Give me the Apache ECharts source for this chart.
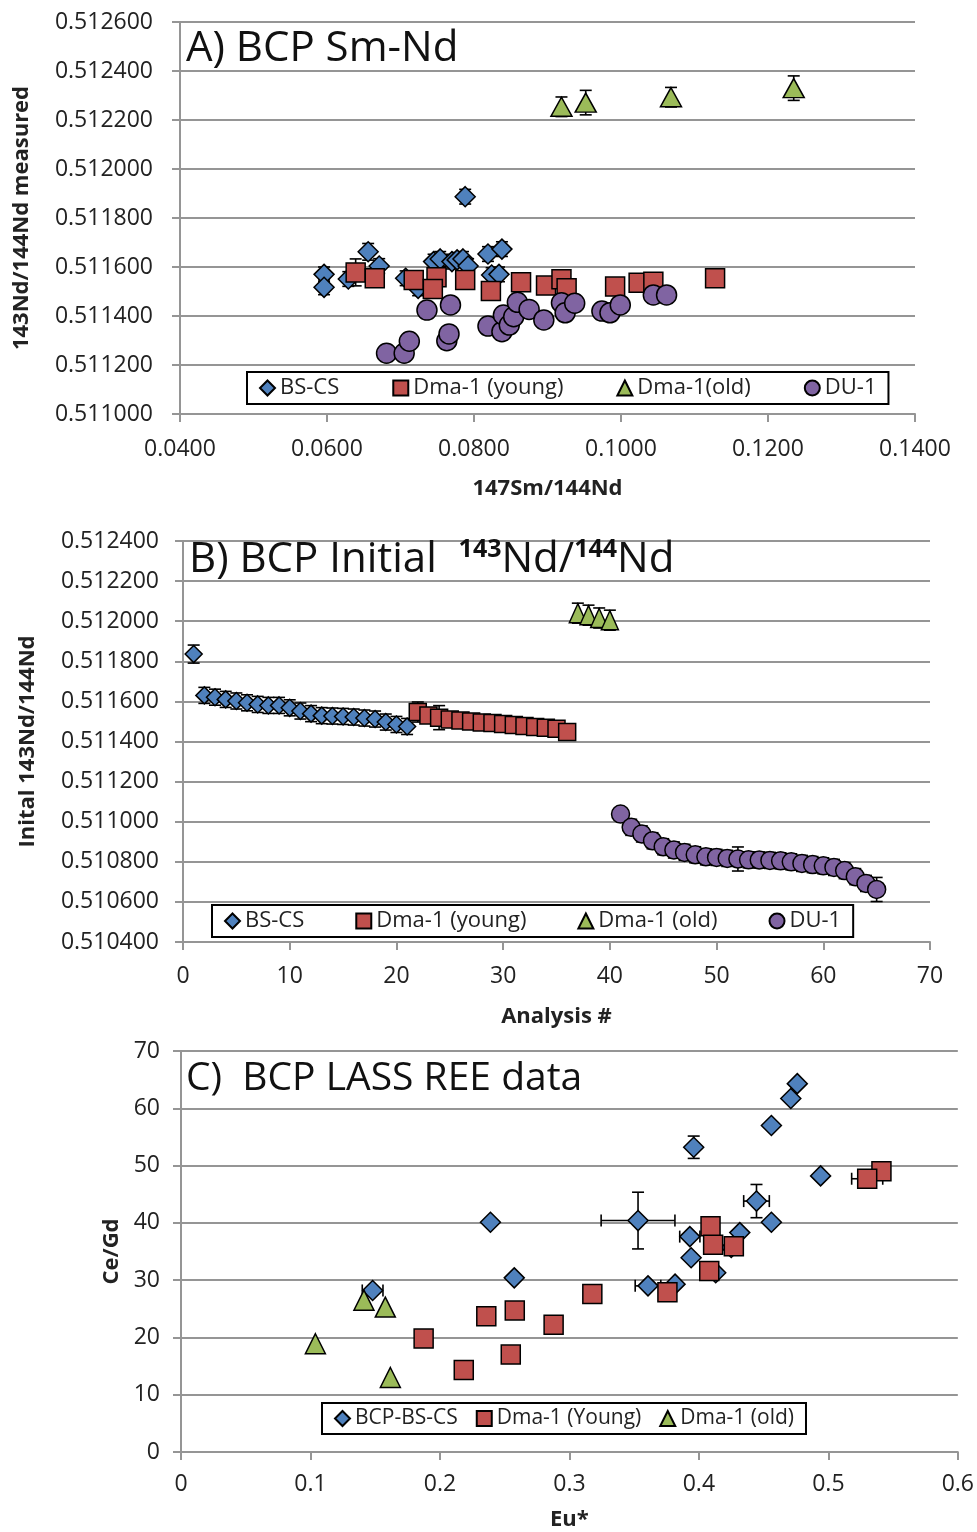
<!DOCTYPE html>
<html>
<head>
<meta charset="utf-8">
<script src="https://cdn.jsdelivr.net/npm/echarts@6/dist/echarts.min.js"></script>
<style>
  html, body { margin: 0; padding: 0; background: #fff; }
  #chart { width: 977px; height: 1532px; }
</style>
</head>
<body>
<div id="chart"></div>
<script>
// ---- A) BCP Sm-Nd : 147Sm/144Nd vs measured 143Nd/144Nd
const aBsX = [0.0788, 0.0596, 0.0596, 0.0629, 0.0656, 0.0671, 0.0707, 0.0724, 0.0745, 0.0754, 0.0770, 0.0777, 0.0785, 0.0792, 0.0819, 0.0838, 0.0824, 0.0834];
const aBsY = [0.511887, 0.511570, 0.511517, 0.511551, 0.511662, 0.511604, 0.511554, 0.511513, 0.511622, 0.511633, 0.511622, 0.511629, 0.511633, 0.511604, 0.511653, 0.511673, 0.511567, 0.511570];
const aBsE = [0.00003, 0.00003, 0.00003, 0.00003, 0.000034, 0.00003, 0.00003, 0.00003, 0.00003, 0.00003, 0.00003, 0.00003, 0.00003, 0.00003, 0.00003, 0.00003, 0.00003, 0.00003];
const aDyX = [0.0639, 0.0665, 0.0718, 0.0749, 0.0744, 0.0788, 0.0823, 0.0864, 0.0898, 0.0919, 0.0926, 0.0992, 0.1024, 0.1044, 0.1128];
const aDyY = [0.511578, 0.511554, 0.511547, 0.511558, 0.511510, 0.511547, 0.511502, 0.511538, 0.511524, 0.511550, 0.511513, 0.511520, 0.511536, 0.511540, 0.511554];
const aDyE = [0.000055, 0.00003, 0.00003, 0.00003, 0.00003, 0.00003, 0.00003, 0.00003, 0.00003, 0.00003, 0.00003, 0.00003, 0.00003, 0.00003, 0.00003];
const aDoX = [0.0919, 0.0952, 0.1068, 0.1235];
const aDoY = [0.512254, 0.512271, 0.512293, 0.512330];
const aDoE = [0.00004, 0.00005, 0.00004, 0.00005];
const aDuX = [0.0681, 0.0705, 0.0712, 0.0736, 0.0768, 0.0763, 0.0766, 0.0819, 0.0838, 0.0840, 0.0848, 0.0854, 0.0859, 0.0875, 0.0895, 0.0919, 0.0924, 0.0937, 0.0974, 0.0985, 0.0999, 0.1044, 0.1062];
const aDuY = [0.511248, 0.511248, 0.511297, 0.511424, 0.511445, 0.511299, 0.511327, 0.511359, 0.511336, 0.511404, 0.511363, 0.511397, 0.511456, 0.511427, 0.511384, 0.511454, 0.511413, 0.511452, 0.511420, 0.511413, 0.511445, 0.511486, 0.511486];
const aDuE = [0.00002, 0.00002, 0.00002, 0.00002, 0.00002, 0.00002, 0.00002, 0.00002, 0.00002, 0.00002, 0.00002, 0.00002, 0.00002, 0.00002, 0.00002, 0.00002, 0.00002, 0.00002, 0.00002, 0.00002, 0.00002, 0.00002, 0.00002];

// ---- B) initial 143Nd/144Nd by analysis #
const bBsN = [1, 2, 3, 4, 5, 6, 7, 8, 9, 10, 11, 12, 13, 14, 15, 16, 17, 18, 19, 20, 21];
const bBsY = [0.511836, 0.511630, 0.511621, 0.511610, 0.511602, 0.511593, 0.511585, 0.511580, 0.511580, 0.511568, 0.511552, 0.511539, 0.511529, 0.511527, 0.511525, 0.511522, 0.511517, 0.511512, 0.511497, 0.511485, 0.511475];
const bBsE = [0.000045, 0.00004, 0.00004, 0.00004, 0.00004, 0.00004, 0.00004, 0.00004, 0.00004, 0.00004, 0.00004, 0.00004, 0.00004, 0.00004, 0.00004, 0.00004, 0.00004, 0.00004, 0.00004, 0.00004, 0.00004];
const bDyN = [22, 23, 24, 25, 26, 27, 28, 29, 30, 31, 32, 33, 34, 35, 36];
const bDyY = [0.511547, 0.511530, 0.511519, 0.511510, 0.511505, 0.511500, 0.511495, 0.511492, 0.511487, 0.511482, 0.511477, 0.511472, 0.511469, 0.511464, 0.511447];
const bDyE = [0.00005, 0.00003, 0.00006, 0.00003, 0.00003, 0.00003, 0.00003, 0.00003, 0.00003, 0.00003, 0.00003, 0.00003, 0.00003, 0.00003, 0.00003];
const bDoN = [37, 38, 39, 40];
const bDoY = [0.512040, 0.512030, 0.512016, 0.512005];
const bDoE = [0.00005, 0.00005, 0.00005, 0.00005];
const bDuN = [41, 42, 43, 44, 45, 46, 47, 48, 49, 50, 51, 52, 53, 54, 55, 56, 57, 58, 59, 60, 61, 62, 63, 64, 65];
const bDuY = [0.511038, 0.510972, 0.510939, 0.510905, 0.510875, 0.510859, 0.510847, 0.510835, 0.510825, 0.510822, 0.510817, 0.510814, 0.510810, 0.510809, 0.510807, 0.510805, 0.510800, 0.510792, 0.510786, 0.510780, 0.510772, 0.510756, 0.510726, 0.510692, 0.510662];
const bDuE = [0.00003, 0.00004, 0.00004, 0.00004, 0.00004, 0.00004, 0.00004, 0.00004, 0.00004, 0.00004, 0.00004, 0.00006, 0.00004, 0.00004, 0.00004, 0.00004, 0.00004, 0.00004, 0.00004, 0.00004, 0.00004, 0.00004, 0.00004, 0.00004, 0.00006];

// ---- C) LASS REE : Eu* vs Ce/Gd
const cBsX = [0.476, 0.471, 0.456, 0.396, 0.494, 0.4445, 0.353, 0.239, 0.456, 0.4316, 0.393, 0.394, 0.425, 0.413, 0.3816, 0.3607, 0.2574, 0.148];
const cBsY = [64.3, 61.7, 57.0, 53.2, 48.2, 43.8, 40.4, 40.1, 40.1, 38.3, 37.6, 33.9, 35.7, 31.3, 29.3, 29.0, 30.4, 28.2];
const cBsEx = [0, 0, 0, 0, 0, 0.0099, 0.0285, 0, 0, 0, 0.0078, 0, 0, 0, 0, 0.0099, 0, 0.008];
const cBsEy = [0, 0, 0, 1.95, 0, 2.9, 4.95, 0, 0, 0, 0, 0, 0, 0, 0, 0, 0, 0];
const cDyX = [0.541, 0.530, 0.409, 0.411, 0.427, 0.408, 0.3757, 0.3177, 0.2578, 0.2358, 0.2878, 0.1874, 0.2547, 0.2184];
const cDyY = [49.0, 47.7, 39.4, 36.2, 35.9, 31.6, 27.9, 27.6, 24.7, 23.7, 22.2, 19.8, 17.0, 14.3];
const cDyEx = [0, 0.012, 0, 0, 0, 0, 0, 0, 0, 0, 0, 0, 0, 0];
const cDyEy = [0, 0, 0, 0, 0, 0, 0, 0, 0, 0, 0, 0, 0, 0];
const cDoX = [0.1038, 0.1413, 0.1578, 0.1617];
const cDoY = [18.9, 26.5, 25.3, 13.0];

const FONT = '"Open Sans", sans-serif';
const BLUE = '#4F81BD', RED = '#C0504D', GREEN = '#9BBB59', PURPLE = '#8064A2';
const GRID_GRAY = '#959595';

function pairs(xs, ys) {
  return xs.map((x, i) => [x, ys[i]]);
}

function scatter(name, g, xs, ys, symbol, size, color) {
  return {
    name: name,
    type: 'scatter',
    xAxisIndex: g, yAxisIndex: g,
    symbol: symbol,
    symbolSize: size,
    z: 3,
    itemStyle: { color: color, borderColor: '#000', borderWidth: 1.5, opacity: 1 },
    data: pairs(xs, ys)
  };
}

function renderErr(params, api) {
  const x = api.value(0), y = api.value(1), ex = api.value(2), ey = api.value(3);
  const cap = 6;
  const style = { stroke: '#000', lineWidth: 1.6 };
  const kids = [];
  if (ey > 0) {
    const a = api.coord([x, y - ey]), b = api.coord([x, y + ey]);
    kids.push({ type: 'line', shape: { x1: a[0], y1: a[1], x2: b[0], y2: b[1] }, style: style });
    kids.push({ type: 'line', shape: { x1: a[0] - cap, y1: a[1], x2: a[0] + cap, y2: a[1] }, style: style });
    kids.push({ type: 'line', shape: { x1: b[0] - cap, y1: b[1], x2: b[0] + cap, y2: b[1] }, style: style });
  }
  if (ex > 0) {
    const a = api.coord([x - ex, y]), b = api.coord([x + ex, y]);
    kids.push({ type: 'line', shape: { x1: a[0], y1: a[1], x2: b[0], y2: b[1] }, style: style });
    kids.push({ type: 'line', shape: { x1: a[0], y1: a[1] - cap, x2: a[0], y2: a[1] + cap }, style: style });
    kids.push({ type: 'line', shape: { x1: b[0], y1: b[1] - cap, x2: b[0], y2: b[1] + cap }, style: style });
  }
  return { type: 'group', children: kids };
}

function errBars(g, xs, ys, ex, ey) {
  return {
    type: 'custom',
    xAxisIndex: g, yAxisIndex: g,
    z: 1,
    silent: true,
    renderItem: renderErr,
    encode: { x: 0, y: 1 },
    data: xs.map((x, i) => [x, ys[i], ex ? ex[i] : 0, ey ? ey[i] : 0])
  };
}

function xAxis(g, min, max, interval, fmt, name, nameGap, labelMargin) {
  return {
    gridIndex: g, type: 'value', min: min, max: max, interval: interval,
    name: name, nameLocation: 'middle', nameGap: nameGap,
    nameTextStyle: { fontFamily: FONT, fontSize: 22, fontWeight: 'bold', color: '#222' },
    axisLine: { show: true, lineStyle: { color: GRID_GRAY, width: 2 } },
    axisTick: { show: true, length: 8, lineStyle: { color: GRID_GRAY, width: 2 } },
    axisLabel: { fontFamily: FONT, fontSize: 23, color: '#222', margin: labelMargin, formatter: fmt },
    splitLine: { show: false }
  };
}

function yAxis(g, min, max, interval, fmt, name, nameGap, labelMargin) {
  return {
    gridIndex: g, type: 'value', min: min, max: max, interval: interval,
    name: name, nameLocation: 'middle', nameGap: nameGap, nameRotate: 90,
    nameTextStyle: { fontFamily: FONT, fontSize: 22, fontWeight: 'bold', color: '#222' },
    axisLine: { show: true, lineStyle: { color: GRID_GRAY, width: 2 } },
    axisTick: { show: true, length: 8, lineStyle: { color: GRID_GRAY, width: 2 } },
    axisLabel: { fontFamily: FONT, fontSize: 23, color: '#222', margin: labelMargin, formatter: fmt },
    splitLine: { show: true, lineStyle: { color: GRID_GRAY, width: 2 } }
  };
}

function legend(names, left, top, fontSize, gap) {
  return {
    data: names,
    left: left, top: top,
    orient: 'horizontal',
    backgroundColor: '#fff',
    borderColor: '#000', borderWidth: 2,
    padding: [5, 12],
    itemGap: gap, itemWidth: 15, itemHeight: 15,
    selectedMode: false,
    textStyle: { fontFamily: FONT, fontSize: fontSize, color: '#222' }
  };
}

const option = {
  backgroundColor: '#fff',
  animation: false,
  grid: [
    { left: 180, top: 22, width: 735, height: 392 },
    { left: 183, top: 541, width: 747, height: 401 },
    { left: 181, top: 1051, width: 778, height: 401 }
  ],
  xAxis: [
    xAxis(0, 0.04, 0.14, 0.02, v => v.toFixed(4), '147Sm/144Nd', 64, 24),
    xAxis(1, 0, 70, 10, null, 'Analysis #', 64, 23),
    xAxis(2, 0, 0.6, 0.1, null, 'Eu*', 57, 21)
  ],
  yAxis: [
    yAxis(0, 0.511, 0.5126, 0.0002, v => v.toFixed(6), '143Nd/144Nd measured', 147, 27),
    yAxis(1, 0.5104, 0.5124, 0.0002, v => v.toFixed(6), 'Inital 143Nd/144Nd', 144, 24),
    yAxis(2, 0, 70, 10, null, 'Ce/Gd', 53, 21)
  ],
  legend: [
    legend(['BS-CS', 'Dma-1 (young)', 'Dma-1(old)', 'DU-1'], 247, 372, 22, 53),
    legend(['BS-CS', 'Dma-1 (young)', 'Dma-1 (old)', 'DU-1'], 212, 905, 22, 51),
    legend(['BCP-BS-CS', 'Dma-1 (Young)', 'Dma-1 (old)'], 322, 1403, 21, 18)
  ],
  graphic: [
    { type: 'text', x: 186, y: 49, z: 10,
      style: { text: 'A) BCP Sm-Nd', fontFamily: FONT, fontSize: 42, fill: '#111', verticalAlign: 'middle' } },
    { type: 'text', x: 189, y: 560, z: 10,
      style: {
        text: '{t|B) BCP Initial  }{s|143}{t|Nd/}{s|144}{t|Nd}',
        verticalAlign: 'middle',
        rich: {
          t: { fontFamily: FONT, fontSize: 42, fill: '#111', lineHeight: 46 },
          s: { fontFamily: FONT, fontSize: 25, fontWeight: 'bold', fill: '#111', verticalAlign: 'top', lineHeight: 28 }
        }
      } },
    { type: 'text', x: 186, y: 1079, z: 10,
      style: { text: 'C)  BCP LASS REE data', fontFamily: FONT, fontSize: 39, fill: '#111', verticalAlign: 'middle' } }
  ],
  series: [
    errBars(0, aBsX, aBsY, null, aBsE),
    errBars(0, aDyX, aDyY, null, aDyE),
    errBars(0, aDoX, aDoY, null, aDoE),
    errBars(0, aDuX, aDuY, null, aDuE),
    scatter('BS-CS', 0, aBsX, aBsY, 'diamond', 20, BLUE),
    scatter('Dma-1 (young)', 0, aDyX, aDyY, 'rect', 19, RED),
    scatter('Dma-1(old)', 0, aDoX, aDoY, 'triangle', [21, 19], GREEN),
    scatter('DU-1', 0, aDuX, aDuY, 'circle', 20, PURPLE),

    errBars(1, bBsN, bBsY, null, bBsE),
    errBars(1, bDyN, bDyY, null, bDyE),
    errBars(1, bDoN, bDoY, null, bDoE),
    errBars(1, bDuN, bDuY, null, bDuE),
    scatter('BS-CS', 1, bBsN, bBsY, 'diamond', 17, BLUE),
    scatter('Dma-1 (young)', 1, bDyN, bDyY, 'rect', 17, RED),
    scatter('Dma-1 (old)', 1, bDoN, bDoY, 'triangle', [17, 19], GREEN),
    scatter('DU-1', 1, bDuN, bDuY, 'circle', 18, PURPLE),

    errBars(2, cBsX, cBsY, cBsEx, cBsEy),
    errBars(2, cDyX, cDyY, cDyEx, cDyEy),
    scatter('BCP-BS-CS', 2, cBsX, cBsY, 'diamond', 20, BLUE),
    scatter('Dma-1 (Young)', 2, cDyX, cDyY, 'rect', 19, RED),
    scatter('Dma-1 (old)', 2, cDoX, cDoY, 'triangle', [20, 20], GREEN)
  ]
};

const chart = echarts.init(document.getElementById('chart'));
chart.setOption(option);
</script>
</body>
</html>
